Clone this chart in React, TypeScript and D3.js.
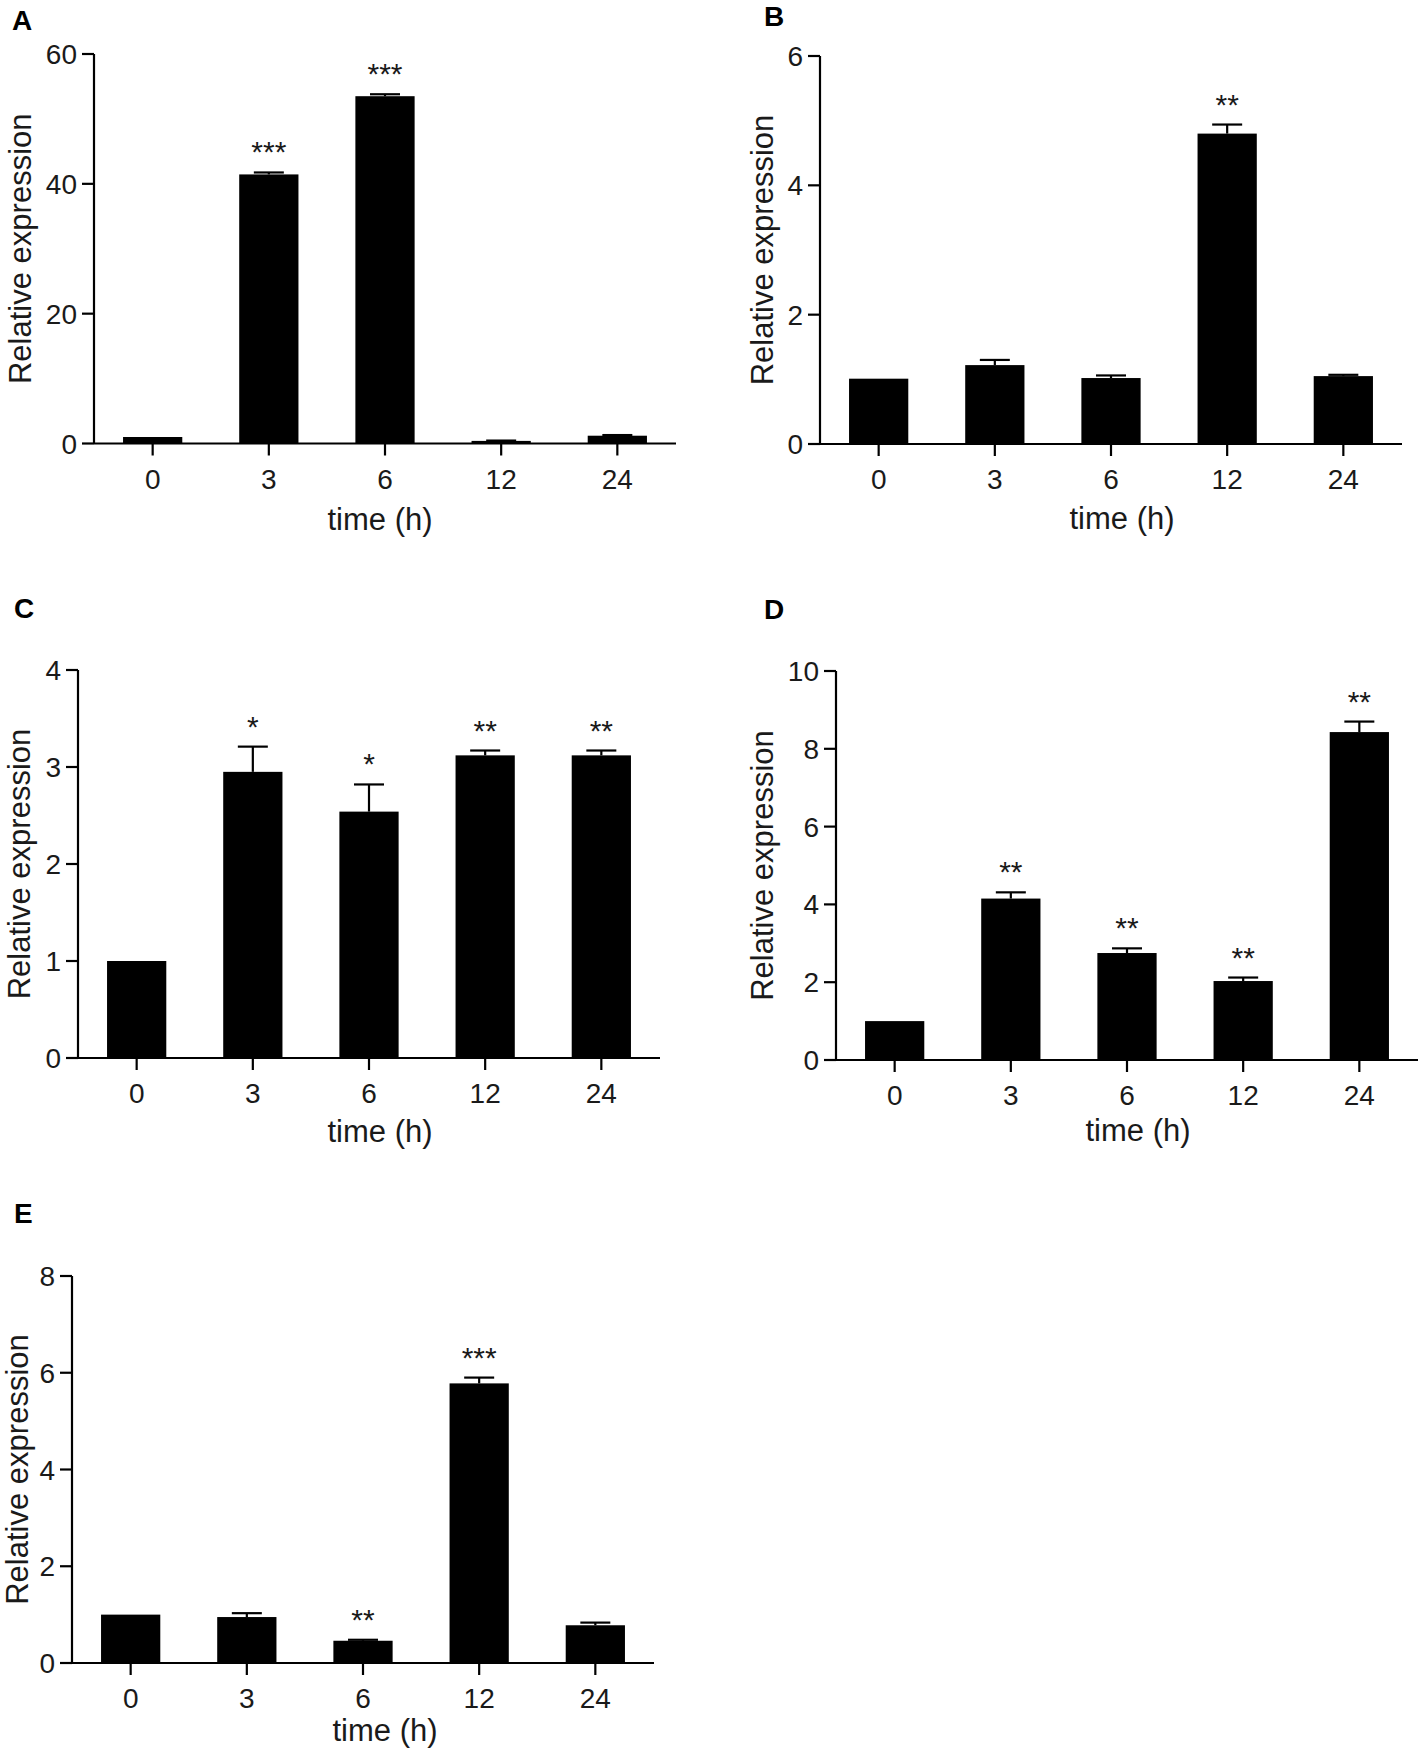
import React from "react";
import * as d3 from "d3";

// ---- data ----
const categories = ["0", "3", "6", "12", "24"];

const valuesA = [1.0, 41.45, 53.5, 0.4, 1.2];
const errorsA = [0, 0.3, 0.3, 0.05, 0.1];
const starsA = ["", "***", "***", "", ""];

const valuesB = [1.01, 1.22, 1.02, 4.8, 1.05];
const errorsB = [0, 0.08, 0.04, 0.14, 0.02];
const starsB = ["", "", "", "**", ""];

const valuesC = [1.0, 2.95, 2.54, 3.12, 3.12];
const errorsC = [0, 0.26, 0.28, 0.05, 0.05];
const starsC = ["", "*", "*", "**", "**"];

const valuesD = [1.0, 4.15, 2.75, 2.03, 8.43];
const errorsD = [0, 0.16, 0.12, 0.09, 0.27];
const starsD = ["", "**", "**", "**", "**"];

const valuesE = [1.0, 0.95, 0.46, 5.78, 0.78];
const errorsE = [0, 0.08, 0.02, 0.12, 0.055];
const starsE = ["", "", "**", "***", ""];

const yTicksA = [0, 20, 40, 60];
const yTicksB = [0, 2, 4, 6];
const yTicksC = [0, 1, 2, 3, 4];
const yTicksD = [0, 2, 4, 6, 8, 10];
const yTicksE = [0, 2, 4, 6, 8];

const panelLetters = ["A", "B", "C", "D", "E"];
const yTitle = "Relative expression";
const xTitle = "time (h)";

// ---- layout ----
const layouts = [
  { left: 94, right: 676, top: 54, bottom: 443.5, lx: 12, ly: 30, ytx: 31, xtx: 380, xtdy: 86 },
  { left: 820, right: 1402, top: 56, bottom: 444, lx: 764, ly: 26, ytx: 773, xtx: 1122, xtdy: 85 },
  { left: 78, right: 660, top: 670, bottom: 1058, lx: 14, ly: 618, ytx: 30, xtx: 380, xtdy: 84 },
  { left: 836, right: 1418, top: 671, bottom: 1060, lx: 764, ly: 619, ytx: 773, xtx: 1138, xtdy: 81 },
  { left: 72, right: 654, top: 1276, bottom: 1663, lx: 14, ly: 1223, ytx: 28, xtx: 385, xtdy: 78 },
];

const panelsData = [
  { values: valuesA, errors: errorsA, stars: starsA, ticks: yTicksA },
  { values: valuesB, errors: errorsB, stars: starsB, ticks: yTicksB },
  { values: valuesC, errors: errorsC, stars: starsC, ticks: yTicksC },
  { values: valuesD, errors: errorsD, stars: starsD, ticks: yTicksD },
  { values: valuesE, errors: errorsE, stars: starsE, ticks: yTicksE },
];

const FONT = "'Liberation Sans', Arial, Helvetica, sans-serif";
const TEXT = "#1a1a1a";

function Panel({ idx }: { idx: number }) {
  const L = layouts[idx];
  const D = panelsData[idx];
  const yMax = D.ticks[D.ticks.length - 1];
  const x = d3
    .scaleBand<string>()
    .domain(categories)
    .range([L.left, L.right])
    .paddingInner(0.49)
    .paddingOuter(0.25);
  const y = d3.scaleLinear().domain([0, yMax]).range([L.bottom, L.top]);
  const bw = x.bandwidth();
  const cx = (c: string) => (x(c) as number) + bw / 2;
  const midY = (L.top + L.bottom) / 2;

  return (
    <g>
      <text
        x={L.lx}
        y={L.ly}
        fontFamily={FONT}
        fontWeight="bold"
        fontSize={28}
        fill="#000"
      >
        {panelLetters[idx]}
      </text>

      {/* bars */}
      {categories.map((c, i) => {
        const v = D.values[i];
        const top = y(v);
        return (
          <rect
            key={"b" + c}
            x={x(c)}
            y={top}
            width={bw}
            height={L.bottom - top}
            fill="#000"
          />
        );
      })}

      {/* error bars (upper only) */}
      {categories.map((c, i) => {
        const e = D.errors[i];
        if (!e) return null;
        const v = D.values[i];
        const yt = y(v + e);
        const xc = cx(c);
        return (
          <g key={"e" + c} stroke="#000" strokeWidth={2.2}>
            <line x1={xc} x2={xc} y1={y(v)} y2={yt} />
            <line x1={xc - 15} x2={xc + 15} y1={yt} y2={yt} />
          </g>
        );
      })}

      {/* significance stars */}
      {categories.map((c, i) => {
        const s = D.stars[i];
        if (!s) return null;
        const yt = y(D.values[i] + D.errors[i]);
        return (
          <text
            key={"s" + c}
            x={cx(c)}
            y={yt - 10}
            textAnchor="middle"
            fontFamily={FONT}
            fontSize={30}
            fill={TEXT}
          >
            {s}
          </text>
        );
      })}

      {/* axes */}
      <line x1={L.left} x2={L.left} y1={L.top} y2={L.bottom} stroke="#000" strokeWidth={2.2} />
      <line x1={L.left} x2={L.right} y1={L.bottom} y2={L.bottom} stroke="#000" strokeWidth={2.2} />

      {D.ticks.map((t) => (
        <g key={"yt" + t}>
          <line x1={L.left - 12} x2={L.left} y1={y(t)} y2={y(t)} stroke="#000" strokeWidth={2.2} />
          <text
            x={L.left - 17}
            y={y(t)}
            dy="0.36em"
            textAnchor="end"
            fontFamily={FONT}
            fontSize={28}
            fill={TEXT}
          >
            {t}
          </text>
        </g>
      ))}

      {categories.map((c) => (
        <g key={"xt" + c}>
          <line x1={cx(c)} x2={cx(c)} y1={L.bottom} y2={L.bottom + 12} stroke="#000" strokeWidth={2.2} />
          <text
            x={cx(c)}
            y={L.bottom + 45}
            textAnchor="middle"
            fontFamily={FONT}
            fontSize={28}
            fill={TEXT}
          >
            {c}
          </text>
        </g>
      ))}

      <text
        x={L.xtx}
        y={L.bottom + L.xtdy}
        textAnchor="middle"
        fontFamily={FONT}
        fontSize={31}
        fill={TEXT}
      >
        {xTitle}
      </text>

      <text
        transform={`translate(${L.ytx},${midY}) rotate(-90)`}
        textAnchor="middle"
        fontFamily={FONT}
        fontSize={31}
        fill={TEXT}
      >
        {yTitle}
      </text>
    </g>
  );
}

export default function App() {
  return (
    <svg
      width={1418}
      height={1748}
      viewBox="0 0 1418 1748"
      style={{ position: "absolute", left: 0, top: 0, background: "#fff" }}
    >
      <rect x={0} y={0} width={1418} height={1748} fill="#fff" />
      {panelLetters.map((_, i) => (
        <Panel key={i} idx={i} />
      ))}
    </svg>
  );
}
